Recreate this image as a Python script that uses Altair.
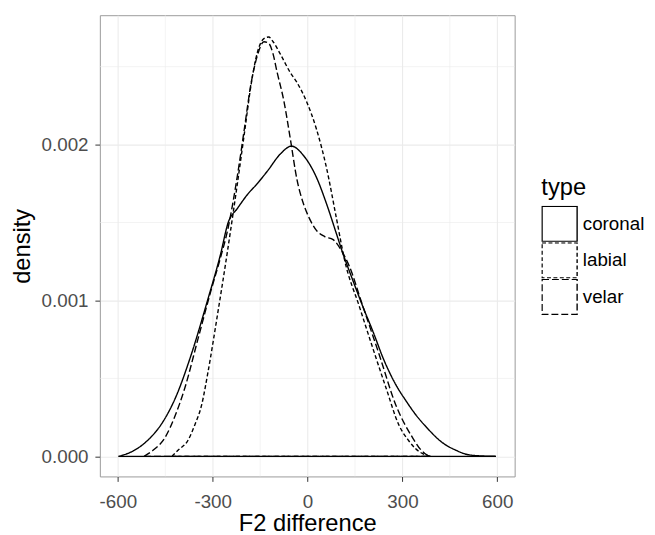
import altair as alt
import pandas as pd

# ---- data (kernel density curves) ----
types = ["coronal", "labial", "velar"]

coronal_x = [-598, -556, -507, -458, -419, -370, -315, -276, -251, -222, -190, -159, -127, -86, -51,
             -13, 28, 60, 91, 112, 143, 175, 207, 241, 279, 310, 341, 379, 425, 468, 509, 556, 596]
coronal_d = [0.0, 0.00003, 0.0001, 0.00022, 0.00037, 0.00064, 0.00101, 0.00129, 0.0015, 0.00159,
             0.00168, 0.00175, 0.00183, 0.00194, 0.00199, 0.00193, 0.00179, 0.00162, 0.00143, 0.0013,
             0.00113, 0.00096, 0.0008, 0.00062, 0.00046, 0.00036, 0.00027, 0.00018, 0.00009, 0.00004,
             0.00001, 0.000002, 0.0]

labial_x = [-429, -409, -379, -357, -335, -315, -284, -253, -222, -200, -179, -159, -138, -123, -109,
            -86, -54, -34, -2, 28, 60, 91, 117, 164, 207, 248, 289, 320, 341, 389]
labial_d = [0.0, 0.00004, 0.0001, 0.0002, 0.00033, 0.00054, 0.00092, 0.00132, 0.00175, 0.00207,
            0.00238, 0.00259, 0.00268, 0.00269, 0.00266, 0.00258, 0.00246, 0.0024, 0.00227, 0.0021,
            0.00185, 0.00153, 0.00126, 0.00096, 0.00069, 0.00044, 0.0002, 0.0001, 0.00005, 0.0]

velar_x = [-517, -488, -451, -419, -388, -347, -306, -276, -253, -222, -200, -179, -159, -138, -123,
           -109, -97, -75, -54, -34, -13, 5, 28, 54, 81, 107, 132, 172, 227, 279, 332, 359, 384]
velar_d = [0.0, 0.00004, 0.00012, 0.00026, 0.00044, 0.00075, 0.00106, 0.00127, 0.00145, 0.0018,
           0.0021, 0.00239, 0.00257, 0.00266, 0.00265, 0.00258, 0.00247, 0.00228, 0.00203, 0.00178,
           0.00162, 0.00153, 0.00145, 0.00141, 0.00139, 0.00132, 0.00122, 0.00098, 0.00065, 0.00033,
           0.00012, 0.00004, 0.0]

x_ticks = [-600, -300, 0, 300, 600]
y_ticks = [0.0, 0.001, 0.002]
minor_x = [-450, -150, 150, 450]
minor_y = [0.0005, 0.0015, 0.0025]

rows = []
for t, xs, ds in [("coronal", coronal_x, coronal_d), ("labial", labial_x, labial_d), ("velar", velar_x, velar_d)]:
    for xv, dv in zip(xs, ds):
        rows.append({"type": t, "x": xv, "density": dv})
df = pd.DataFrame(rows)

x_scale = alt.Scale(domain=[-657, 655], nice=False, zero=False)
y_scale = alt.Scale(domain=[-0.000129, 0.00283], nice=False, zero=False)
dash_scale = alt.Scale(domain=types, range=[[1, 0], [4, 2.5], [7, 3]])

grid_col = "#EBEBEB"

legend = alt.Legend(title="type", orient="none", legendX=447, legendY=163,
                    symbolType="square", symbolSize=1260,
                    symbolFillColor="white", symbolStrokeColor="black",
                    symbolStrokeWidth=1.4, labelFontSize=19,
                    labelColor="#000000", titleFontSize=24,
                    titleFontWeight="normal", titleColor="#000000",
                    titlePadding=6, rowPadding=0, clipHeight=36.5, labelOffset=5)

minor_v = alt.Chart(pd.DataFrame({"v": minor_x})).mark_rule(color=grid_col, strokeWidth=0.6).encode(
    x=alt.X("v:Q", scale=x_scale)
)
minor_h = alt.Chart(pd.DataFrame({"v": minor_y})).mark_rule(color=grid_col, strokeWidth=0.6).encode(
    y=alt.Y("v:Q", scale=y_scale)
)

x_axis = alt.Axis(values=x_ticks, labelExpr="'' + datum.value", title="F2 difference", grid=True,
                  gridColor=grid_col, gridWidth=1.1, domain=False, ticks=True, tickSize=5,
                  tickColor="#333333", labelColor="#4D4D4D", labelFontSize=19, labelPadding=11,
                  titleFontSize=24, titleFontWeight="normal", titleColor="#000000", titlePadding=1,
                  labelFlush=False)
y_axis = alt.Axis(values=y_ticks, format=".3f", title="density", grid=True, gridColor=grid_col,
                  gridWidth=1.1, domain=False, ticks=True, tickSize=5, tickColor="#333333",
                  labelColor="#4D4D4D", labelFontSize=19, labelPadding=7, titleFontSize=24,
                  titleFontWeight="normal", titleColor="#000000", titlePadding=7)

lines = alt.Chart(df).mark_line(color="black", strokeWidth=1.4, interpolate="monotone").encode(
    x=alt.X("x:Q", scale=x_scale, axis=x_axis),
    y=alt.Y("density:Q", scale=y_scale, axis=y_axis),
    strokeDash=alt.StrokeDash("type:N", scale=dash_scale, legend=legend),
    detail="type:N",
    order="x:Q",
)

base_rule = alt.Chart(df).mark_rule(color="black", strokeWidth=1.4).encode(
    x=alt.X("min(x):Q", scale=x_scale),
    x2="max(x):Q",
    y=alt.datum(0.0),
    strokeDash=alt.StrokeDash("type:N", scale=dash_scale, legend=legend),
)

chart = alt.layer(minor_v, minor_h, base_rule, lines).properties(
    width=420,
    height=467,
    autosize=alt.AutoSizeParams(type="none"),
    padding={"left": 93, "top": 4, "right": 134, "bottom": 56},
).configure(font="Liberation Sans").configure_view(stroke="#9a9a9a", strokeWidth=1)

chart.save("out.html", embed_options={"renderer": "svg", "actions": False})
